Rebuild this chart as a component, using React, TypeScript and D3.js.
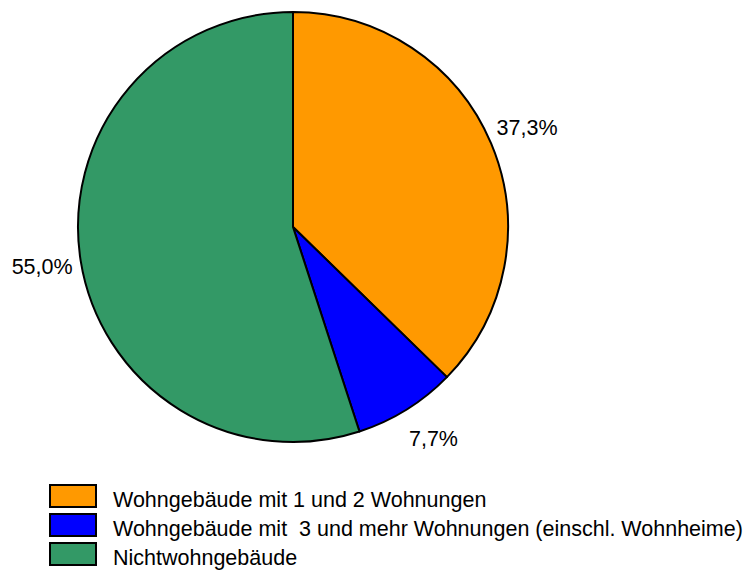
import React from 'react';
import * as d3 from 'd3';

// Anteil am Bauvolumen
const categories = [
  'Wohngebäude mit 1 und 2 Wohnungen',
  'Wohngebäude mit  3 und mehr Wohnungen (einschl. Wohnheime)',
  'Nichtwohngebäude',
];
const shares = [37.3, 7.7, 55.0];
const labels = ['37,3%', '7,7%', '55,0%'];
const colors = ['#FF9900', '#0000FF', '#339966'];

const width = 747;
const height = 570;
const cx = 293;
const cy = 227;
const radius = 215;

const App = () => {
  const pie = d3.pie<number>().sort(null).value(d => d);
  const arcs = pie(shares);
  const arc = d3.arc<d3.PieArcDatum<number>>().innerRadius(0).outerRadius(radius);
  const labelArc = d3.arc<d3.PieArcDatum<number>>().innerRadius(radius + 39).outerRadius(radius + 39);

  const font = 'Liberation Sans, Arial, sans-serif';

  return (
    <svg width={width} height={height} style={{ position: 'absolute', left: 0, top: 0 }}>
      <g transform={`translate(${cx},${cy})`}>
        {arcs.map((a, i) => (
          <path key={i} d={arc(a) || ''} fill={colors[i]} stroke="#000" strokeWidth={2} strokeLinejoin="round" />
        ))}
        {arcs.map((a, i) => {
          // Excel-style outside labels sit a bit closer to the top than the true mid-angle
          const mid = (a.startAngle + a.endAngle) / 2;
          const shifted = { ...a, startAngle: mid - 0.03, endAngle: mid - 0.03 } as any;
          const [x, y] = labelArc.centroid(i === 1 ? shifted : a);
          return (
            <text key={i} x={x} y={y} textAnchor="middle" dominantBaseline="central"
              fontFamily={font} fontSize={21.5} fill="#000">
              {labels[i]}
            </text>
          );
        })}
      </g>
      <g>
        {categories.map((c, i) => (
          <g key={i} transform={`translate(50,${485 + i * 29})`}>
            <rect x={0} y={0} width={46} height={22} fill={colors[i]} stroke="#000" strokeWidth={2} />
            <text x={63} y={22} fontFamily={font} fontSize={21.5} fill="#000" style={{ whiteSpace: 'pre' }}>{c}</text>
          </g>
        ))}
      </g>
    </svg>
  );
};

export default App;
